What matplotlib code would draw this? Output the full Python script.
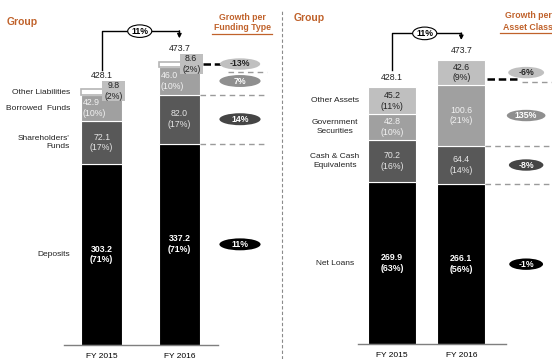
import matplotlib
matplotlib.use("Agg")
import matplotlib.pyplot as plt
from matplotlib.patches import Ellipse, Rectangle
from matplotlib.lines import Line2D
import numpy as np

plt.rcParams['font.family'] = ['Liberation Sans', 'DejaVu Sans']

years = ["FY 2015", "FY 2016"]

# Funding side, stacked bottom to top
fund_names = ["Deposits", "Shareholders'\nFunds", "Borrowed  Funds", "Other Liabilities"]
fund_2015 = [303.2, 72.1, 42.9, 9.8]
fund_2016 = [337.2, 82.0, 46.0, 8.6]
fund_share_2015 = ["(71%)", "(17%)", "(10%)", "(2%)"]
fund_share_2016 = ["(71%)", "(17%)", "(10%)", "(2%)"]
fund_growth = ["11%", "14%", "7%", "-13%"]
fund_totals = [428.1, 473.7]
fund_total_growth = "11%"

# Asset side, stacked bottom to top
asset_names = ["Net Loans", "Cash & Cash\nEquivalents", "Government\nSecurities", "Other Assets"]
asset_2015 = [269.9, 70.2, 42.8, 45.2]
asset_2016 = [266.1, 64.4, 100.6, 42.6]
asset_share_2015 = ["(63%)", "(16%)", "(10%)", "(11%)"]
asset_share_2016 = ["(56%)", "(14%)", "(21%)", "(9%)"]
asset_growth = ["-1%", "-8%", "135%", "-6%"]
asset_totals = [428.1, 473.7]
asset_total_growth = "11%"

seg_colors = ["#000000", "#585858", "#a0a0a0", "#bfbfbf"]
seg_text = ["white", "#e6e6e6", "#f2f2f2", "#222222"]
seg_bold = [True, False, False, False]
pill_colors = ["#000000", "#454545", "#8f8f8f", "#c0c0c0"]
pill_text = ["white", "white", "white", "#222222"]
orange = "#c0622b"
dash_gray = "#9a9a9a"

W, H = 552, 359
fig = plt.figure(figsize=(W / 100, H / 100), dpi=100)


def px_axes(x0, x1, base, top):
    return fig.add_axes([x0 / W, 1 - base / H, (x1 - x0) / W, (base - top) / H])


def style_axes(ax):
    for s in ["left", "right", "top"]:
        ax.spines[s].set_visible(False)
    ax.spines["bottom"].set_color("#7f7f7f")
    ax.spines["bottom"].set_linewidth(1.0)
    ax.set_yticks([])
    ax.set_xticks([0, 1])
    ax.set_xticklabels(years, fontsize=6)
    ax.tick_params(axis="x", length=0, pad=5.5)


def pill(ax, x, y, w, h, text, fc, tc):
    ax.add_patch(Ellipse((x, y), w, h, facecolor=fc, edgecolor="none",
                         clip_on=False, zorder=5))
    ax.text(x, y, text, ha="center", va="center", fontsize=6.3, color=tc,
            weight="bold", zorder=6, clip_on=False)


def connector(ax, totals, y_start, y_bar, y_tip, ex, ew, eh, label):
    ax.plot([0, 0, 1], [y_start, y_bar, y_bar], color="black", lw=1,
            clip_on=False, zorder=4)
    ax.annotate("", xy=(1, y_tip), xytext=(1, y_bar + 0.5),
                arrowprops=dict(arrowstyle="-|>", color="black", lw=1,
                                mutation_scale=6, shrinkA=0, shrinkB=0),
                annotation_clip=False, zorder=4)
    ax.add_patch(Ellipse((ex, y_bar), ew, eh, facecolor="white",
                         edgecolor="black", lw=0.8, clip_on=False, zorder=5))
    ax.text(ex, y_bar, label, ha="center", va="center", fontsize=6.3,
            weight="bold", zorder=6)


def hdash(ax, x0, x1, y, color=dash_gray, lw=1.0, dashes=(4, 3)):
    ax.add_line(Line2D([x0, x1], [y, y], color=color, lw=lw,
                       dashes=dashes, clip_on=False, zorder=3))


# ---------------- Funding panel ----------------
ax1 = px_axes(64, 218, 345, 11)
ax1.set_xlim(-0.485, 1.497)
ax1.set_ylim(0, 334 / 0.597)
style_axes(ax1)
bw1 = 0.528

for xi, (vals, shares) in enumerate([(fund_2015, fund_share_2015),
                                     (fund_2016, fund_share_2016)]):
    bottoms = np.concatenate([[0], np.cumsum(vals)[:-1]])
    for k, (v, b) in enumerate(zip(vals, bottoms)):
        if k == 3:
            ax1.bar(xi, v, bw1, bottom=b, color="white", edgecolor="#b5b5b5",
                    lw=1.2, zorder=2)
            # value box sitting over the thin top segment
            top = b + v
            bx0 = xi + 0.005
            bwid = bw1 / 2 + 0.03
            ax1.add_patch(Rectangle((bx0, top - 20), bwid, 34,
                                    facecolor=seg_colors[3], edgecolor="none",
                                    zorder=4))
            ax1.text(bx0 + bwid / 2, top - 3, f"{v:.1f}\n{shares[k]}",
                     ha="center", va="center", fontsize=6.3, color="#222222",
                     linespacing=1.25, zorder=5)
            continue
        ax1.bar(xi, v, bw1, bottom=b, color=seg_colors[k], edgecolor="white",
                lw=0.8, zorder=2)
        label = f"{v:.1f}\n{shares[k]}"
        if k == 2:
            ax1.text(xi - bw1 / 2 + 0.02, b + v / 2, label, ha="left", va="center",
                     fontsize=6.3, color=seg_text[k], linespacing=1.25, zorder=3)
        else:
            ax1.text(xi, b + v / 2, label, ha="center", va="center", fontsize=6.3,
                     color=seg_text[k], weight="bold" if seg_bold[k] else "normal",
                     linespacing=1.25, zorder=3)

for xi, t in enumerate(fund_totals):
    ax1.text(xi, t + 23, f"{t:.1f}", ha="center", va="center", fontsize=6.3,
             color="#222222")

# category names beside the FY 2015 bar
mid15 = np.cumsum(fund_2015) - np.array(fund_2015) / 2
for k, name in enumerate(fund_names):
    ax1.text(-0.41, mid15[k], name, ha="right", va="center", fontsize=6,
             color="#222222", linespacing=1.3, clip_on=False)

connector(ax1, fund_totals, fund_totals[0] + 32, max(fund_totals) + 52,
          max(fund_totals) + 40, 0.49, 0.31, 21, fund_total_growth)

# growth pills and guide lines
cum16 = np.cumsum(fund_2016)
mid16 = cum16 - np.array(fund_2016) / 2
px1 = 1.78
for k in range(3):
    pill(ax1, px1, mid16[k], 0.53, 20, fund_growth[k], pill_colors[k], pill_text[k])
pill(ax1, px1, fund_totals[1] - 3, 0.52, 19, fund_growth[3], pill_colors[3], pill_text[3])

right1 = 1 + bw1 / 2
hdash(ax1, right1, 2.13, cum16[0])
hdash(ax1, right1, 2.13, cum16[1])
hdash(ax1, 1.63, 2.13, cum16[2] - 8)
hdash(ax1, right1 + 0.04, 1.56, fund_totals[1] - 3, color="black", lw=1.8,
      dashes=(3, 1.5))

# ---------------- Asset panel ----------------
ax2 = px_axes(358, 506, 344, 10)
ax2.set_xlim(-0.497, 1.648)
ax2.set_ylim(0, 334 / 0.6)
style_axes(ax2)
bw2 = 0.69

for xi, (vals, shares) in enumerate([(asset_2015, asset_share_2015),
                                     (asset_2016, asset_share_2016)]):
    bottoms = np.concatenate([[0], np.cumsum(vals)[:-1]])
    for k, (v, b) in enumerate(zip(vals, bottoms)):
        ax2.bar(xi, v, bw2, bottom=b, color=seg_colors[k], edgecolor="white",
                lw=0.8, zorder=2)
        ax2.text(xi, b + v / 2, f"{v:.1f}\n{shares[k]}", ha="center",
                 va="center", fontsize=6.3, color=seg_text[k],
                 weight="bold" if seg_bold[k] else "normal",
                 linespacing=1.25, zorder=3)

for xi, t in enumerate(asset_totals):
    ax2.text(xi, t + 16, f"{t:.1f}", ha="center", va="center", fontsize=6.3,
             color="#222222")

amid15 = np.cumsum(asset_2015) - np.array(asset_2015) / 2
for k, name in enumerate(asset_names):
    ax2.text(-0.83, amid15[k], name, ha="center", va="center", fontsize=6,
             color="#222222", linespacing=1.3, clip_on=False)

connector(ax2, asset_totals, asset_totals[0] + 29, max(asset_totals) + 44,
          max(asset_totals) + 33, 0.47, 0.35, 21, asset_total_growth)

acum16 = np.cumsum(asset_2016)
amid16 = acum16 - np.array(asset_2016) / 2
px2 = 1.94
pw = [0.49, 0.50, 0.56, 0.52]
for k in range(4):
    pill(ax2, px2, amid16[k], pw[k], 19, asset_growth[k], pill_colors[k], pill_text[k])

right2 = 1 + bw2 / 2
hdash(ax2, right2, 2.31, acum16[0])
hdash(ax2, right2, 2.31, acum16[1])
hdash(ax2, 1.88, 2.31, acum16[2] + 5)
hdash(ax2, right2 + 0.03, 1.85, acum16[2] + 10, color="black", lw=1.8,
      dashes=(3, 1.5))

# ---------------- Headings and divider ----------------
fig.text(7 / W, 1 - 22 / H, "Group", color=orange, weight="bold", fontsize=7.5,
         va="center", ha="left")
fig.text(294 / W, 1 - 18 / H, "Group", color=orange, weight="bold", fontsize=7.5,
         va="center", ha="left")

fig.text(242 / W, 1 - 17 / H, "Growth per", color=orange, weight="bold",
         fontsize=6.3, ha="center", va="center")
fig.text(242 / W, 1 - 28 / H, "Funding Type", color=orange, weight="bold",
         fontsize=6.3, ha="center", va="center")
fig.add_artist(Line2D([212 / W, 272 / W], [1 - 33.5 / H] * 2, color=orange, lw=0.9))

fig.text(528 / W, 1 - 16 / H, "Growth per", color=orange, weight="bold",
         fontsize=6.3, ha="center", va="center")
fig.text(528 / W, 1 - 27 / H, "Asset Class", color=orange, weight="bold",
         fontsize=6.3, ha="center", va="center")
fig.add_artist(Line2D([500 / W, 552 / W], [1 - 32.5 / H] * 2, color=orange, lw=0.9))

fig.add_artist(Line2D([282 / W] * 2, [0, 1 - 10 / H], color="#8a8a8a", lw=0.8,
                      dashes=(3, 2)))

fig.savefig("out.png", dpi=100)
